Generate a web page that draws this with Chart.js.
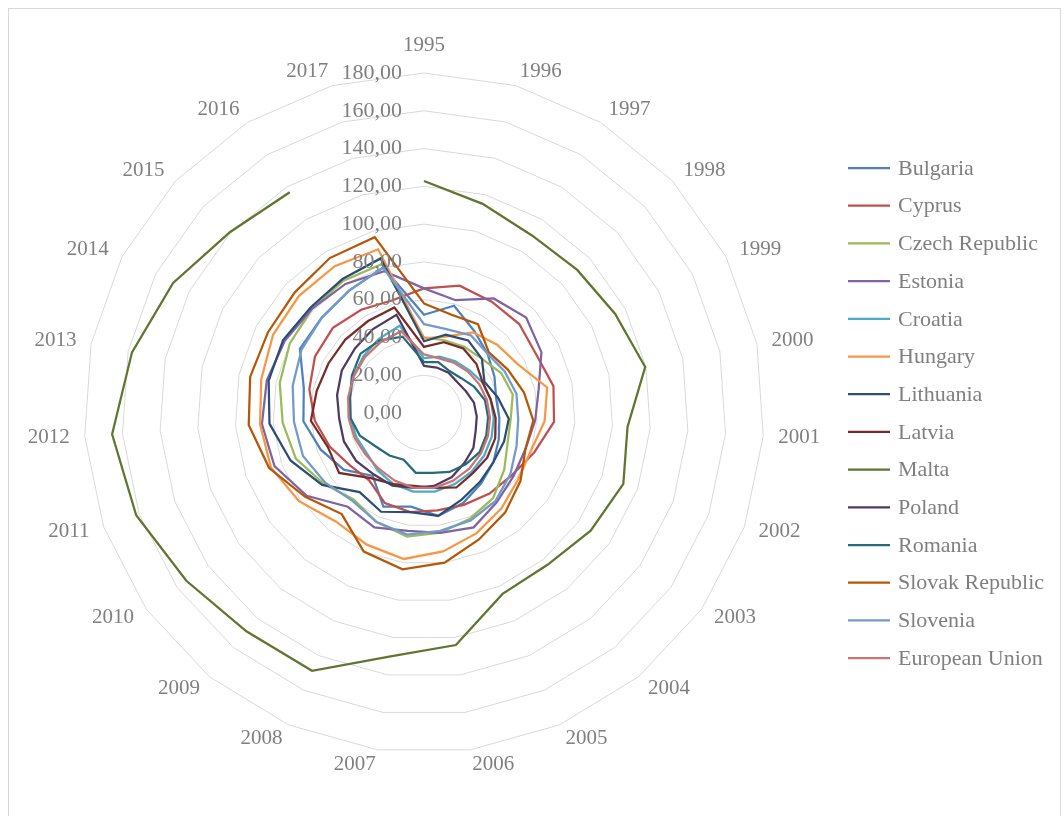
<!DOCTYPE html>
<html>
<head>
<meta charset="utf-8">
<script src="https://cdn.jsdelivr.net/npm/chart.js@4.4.1/dist/chart.umd.min.js"></script>
<style>
  html, body { margin: 0; padding: 0; background: #ffffff; }
  #wrap { position: relative; width: 1064px; height: 816px; }
  canvas { display: block; }
</style>
</head>
<body>
<div id="wrap"><canvas id="chart" width="1064" height="816"></canvas></div>
<script>
// Years on the radar spokes
const years = [1995, 1996, 1997, 1998, 1999, 2000, 2001, 2002, 2003, 2004, 2005,
  2006, 2007, 2008, 2009, 2010, 2011, 2012, 2013, 2014, 2015, 2016, 2017];

// Series values, one per year
const bulgaria  = [52, 59, 51, 46, 42, 39, 40, 42, 45, 48, 52, 55, 50, 54, 43, 52, 58, 64, 65, 74, 74, 76, 80];
const cyprus    = [66, 70, 69, 69, 67, 70, 69, 62, 57, 55, 53, 52, 53, 52, 46, 48, 53, 58, 62, 65, 66, 64, 62];
const czech     = [40, 40, 41, 42, 46, 48, 46, 47, 52, 58, 61, 64, 66, 63, 59, 65, 72, 75, 78, 80, 81, 82, 82];
const estonia   = [66, 62, 71, 74, 70, 62, 59, 57, 58, 61, 66, 64, 63, 66, 64, 76, 84, 86, 85, 83, 81, 80, 78];
const croatia   = [29, 31, 32, 33, 35, 36, 37, 38, 39, 40, 41, 42, 42, 41, 39, 37, 38, 39, 40, 42, 44, 46, 48];
const hungary   = [39.5, 42, 50, 53, 56, 66.6, 64, 60, 61, 65, 69.5, 74, 78, 76, 74, 81, 86, 87, 88, 90, 90.7, 91, 90];
const lithuania = [38, 43, 45, 42, 36, 40, 45, 45, 45, 47, 50, 55, 53, 57, 54, 66, 75, 82, 84, 84, 82, 83, 85];
const latvia    = [35, 39, 40, 38, 35, 36, 38, 40, 41, 41, 43, 40, 39, 41, 44.5, 55, 54, 60, 58, 57, 57, 57, 58];
const malta     = [122.8, 115, 110, 111, 114, 119.6, 108, 112, 108, 103.6, 104.4, 124, 130, 148.8, 149, 154, 161.7, 165.5, 157.9, 149.6, 140.4, 136.8, null];
const poland    = [25, 25, 25, 24, 25, 27, 28, 29, 32, 34, 37, 39, 40, 42, 42, 44, 45, 45, 47, 49, 50, 52, 54];
const romania   = [27, 28, 26, 27, 30, 33, 34, 35, 36, 35, 34, 32, 32, 27, 29, 31, 36, 39, 40, 43, 46, 45, 42];
const slovak    = [58, 54, 55, 47, 50, 54, 58, 57, 62.5, 68, 73, 80, 83.5, 80, 69, 77, 87, 93, 94, 93, 93.6, 96, 96.7];
const slovenia  = [47, 46, 48, 46, 48, 50, 50, 52, 56, 60, 62, 63, 65, 63, 60, 64, 68, 69, 71, 73, 74, 76, 80];
const eu        = [31, 30, 31, 32, 33, 34, 35, 36, 37, 38, 39, 40, 40, 39, 38, 38, 39, 40, 41, 42, 43, 44, 45];

// Radial axis range
const axisMin = 0;
const axisMax = 180;
const axisStep = 20;

const series = [
  ['Bulgaria', bulgaria, '#4F81BD'],
  ['Cyprus', cyprus, '#C0504D'],
  ['Czech Republic', czech, '#9BBB59'],
  ['Estonia', estonia, '#8064A2'],
  ['Croatia', croatia, '#4BACC6'],
  ['Hungary', hungary, '#F79646'],
  ['Lithuania', lithuania, '#2C4D75'],
  ['Latvia', latvia, '#772C2A'],
  ['Malta', malta, '#5F7530'],
  ['Poland', poland, '#4D3B62'],
  ['Romania', romania, '#276A7C'],
  ['Slovak Republic', slovak, '#B65708'],
  ['Slovenia', slovenia, '#729ACA'],
  ['European Union', eu, '#CD7371']
];

const FONT = '"Liberation Serif", "Times New Roman", serif';
const TEXT = '#7f7f7f';
const fmt = v => v.toFixed(2).replace('.', ',');

// Frame, tick labels, spoke labels and legend
const decorations = {
  id: 'decorations',
  beforeDraw(chart) {
    const ctx = chart.ctx;
    ctx.save();
    ctx.strokeStyle = '#d9d9d9';
    ctx.lineWidth = 1;
    ctx.strokeRect(8.5, 8.5, 1052, 830);
    ctx.restore();
  },
  afterDatasetsDraw(chart) {
    const ctx = chart.ctx;
    const r = chart.scales.r;
    ctx.save();
    ctx.fillStyle = TEXT;

    // value labels up the vertical spoke
    ctx.font = '22px ' + FONT;
    ctx.textAlign = 'right';
    ctx.textBaseline = 'middle';
    r.ticks.forEach(t => {
      const d = r.getDistanceFromCenterForValue(t.value);
      ctx.fillText(fmt(t.value), r.xCenter - 22, r.yCenter - d);
    });

    // year labels around the outside
    ctx.font = '21px ' + FONT;
    ctx.textAlign = 'center';
    const n = chart.data.labels.length;
    chart.data.labels.forEach((lab, i) => {
      const pad = i === 0 ? 28 : 15;
      const p = r.getPointPosition(i, r.drawingArea + pad);
      const s = Math.sin(i * 2 * Math.PI / n);
      const w = ctx.measureText(String(lab)).width;
      let x = p.x;
      if (Math.abs(s) > 1e-6) x += Math.sign(s) * w / 2;
      ctx.fillText(String(lab), x, p.y);
    });

    // legend
    ctx.font = '22px ' + FONT;
    const lx = 848, ly = 168, gap = 37.7;
    ctx.textAlign = 'left';
    chart.data.datasets.forEach((ds, i) => {
      const y = ly + i * gap;
      ctx.strokeStyle = ds.borderColor;
      ctx.lineWidth = 2.25;
      ctx.beginPath();
      ctx.moveTo(lx, y);
      ctx.lineTo(lx + 42, y);
      ctx.stroke();
      ctx.fillStyle = TEXT;
      ctx.fillText(ds.label, lx + 50, y + 1);
    });
    ctx.restore();
  }
};

new Chart(document.getElementById('chart'), {
  type: 'radar',
  data: {
    labels: years,
    datasets: series.map(([name, values, color], i) => ({
      label: name,
      data: values,
      borderColor: color,
      backgroundColor: color,
      borderWidth: 2.25,
      pointRadius: 0,
      pointHoverRadius: 0,
      fill: false,
      tension: 0,
      spanGaps: false,
      order: -i
    }))
  },
  options: {
    responsive: false,
    animation: false,
    devicePixelRatio: 1,
    layout: { padding: { left: 84, top: 73, right: 300, bottom: 63 } },
    plugins: { legend: { display: false }, tooltip: { enabled: false } },
    scales: {
      r: {
        min: axisMin,
        max: axisMax,
        ticks: { stepSize: axisStep, display: false },
        grid: { circular: false, color: '#d9d9d9', lineWidth: 1 },
        angleLines: { display: false },
        pointLabels: { display: false }
      }
    }
  },
  plugins: [decorations]
});
</script>
</body>
</html>
